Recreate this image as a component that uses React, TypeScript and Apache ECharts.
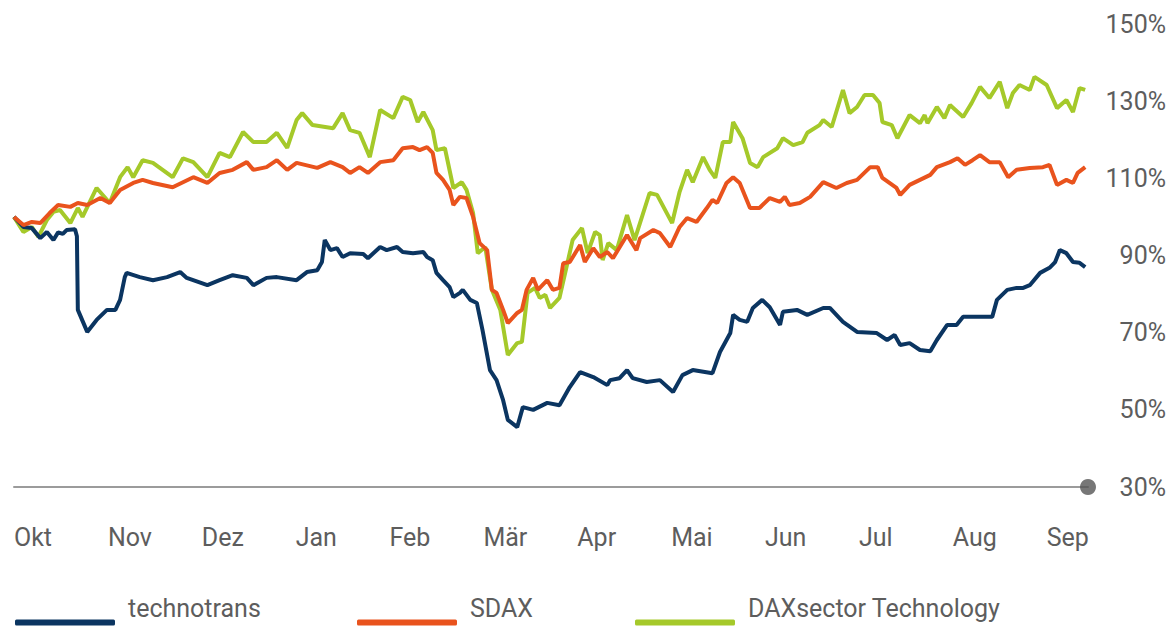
import React, { useEffect, useRef } from "react";
import * as echarts from "echarts";

// Month labels (x axis ticks at month starts, x in months since 1 Oct)
const monthLabels = ["Okt", "Nov", "Dez", "Jan", "Feb", "Mär", "Apr", "Mai", "Jun", "Jul", "Aug", "Sep"];
const yTicks = [30, 50, 70, 90, 110, 130, 150];
const xEnd = 11.44;

// [months since 1 Oct, indexed value in %]
const technotrans: [number, number][] = [
  [0, 100.0], [0.1, 97.4], [0.19, 97.1], [0.28, 94.5], [0.35, 96.1], [0.42, 94.0], [0.47, 96.0], [0.52, 95.6],
  [0.56, 96.6], [0.65, 96.8], [0.67, 95.0], [0.68, 75.9], [0.78, 70.2], [0.88, 73.3], [0.99, 75.9], [1.08, 75.9],
  [1.13, 78.5], [1.18, 84.4], [1.2, 85.5], [1.34, 84.4], [1.48, 83.6], [1.63, 84.4], [1.77, 85.7], [1.84, 84.2],
  [2.06, 82.3], [2.19, 83.6], [2.33, 84.9], [2.48, 84.2], [2.55, 82.3], [2.69, 84.2], [2.8, 84.4], [3.01, 83.6],
  [3.12, 85.7], [3.23, 86.2], [3.28, 88.3], [3.31, 94.0], [3.37, 91.4], [3.44, 91.9], [3.5, 89.6], [3.58, 90.6],
  [3.72, 90.4], [3.77, 89.3], [3.9, 92.2], [3.97, 91.4], [4.08, 92.2], [4.14, 90.9], [4.25, 90.6], [4.36, 90.9],
  [4.4, 89.6], [4.46, 88.8], [4.5, 85.5], [4.57, 83.6], [4.64, 81.8], [4.68, 79.2], [4.75, 80.3], [4.78, 81.1],
  [4.86, 78.5], [4.93, 77.7], [4.99, 70.7], [5.07, 60.3], [5.14, 57.7], [5.21, 52.5], [5.26, 47.4], [5.36, 45.5],
  [5.42, 50.7], [5.53, 50.0], [5.68, 51.8], [5.81, 51.2], [5.92, 55.9], [6.03, 59.8], [6.17, 58.5], [6.32, 56.4],
  [6.35, 57.7], [6.45, 58.2], [6.53, 60.3], [6.59, 58.2], [6.74, 57.2], [6.88, 57.7], [7.02, 54.6], [7.12, 59.0],
  [7.23, 60.3], [7.44, 59.5], [7.52, 65.0], [7.63, 69.9], [7.66, 74.6], [7.73, 73.3], [7.81, 72.8], [7.87, 76.4],
  [7.97, 78.5], [8.05, 76.6], [8.16, 72.0], [8.19, 75.4], [8.34, 75.9], [8.45, 74.6], [8.62, 76.4], [8.69, 76.4],
  [8.83, 72.8], [8.98, 70.2], [9.19, 69.9], [9.3, 68.1], [9.38, 69.4], [9.44, 66.8], [9.54, 67.3], [9.65, 65.5],
  [9.76, 65.2], [9.83, 68.1], [9.94, 72.0], [10.04, 72.0], [10.11, 74.1], [10.26, 74.1], [10.42, 74.1], [10.47, 78.5],
  [10.58, 81.1], [10.68, 81.6], [10.75, 81.6], [10.82, 82.3], [10.93, 85.5], [11.03, 86.8], [11.09, 88.3], [11.14, 91.4],
  [11.21, 90.6], [11.28, 88.3], [11.35, 88.1], [11.41, 87.0],
];

const sdax: [number, number][] = [
  [0, 100.0], [0.1, 97.9], [0.19, 98.7], [0.28, 98.4], [0.38, 101.0], [0.47, 103.1], [0.6, 102.6], [0.68, 103.6],
  [0.78, 103.1], [0.92, 104.9], [1.02, 103.6], [1.13, 107.0], [1.27, 108.8], [1.37, 109.6], [1.48, 108.8], [1.69, 107.7],
  [1.91, 110.3], [2.06, 108.8], [2.19, 111.4], [2.33, 112.2], [2.48, 114.2], [2.55, 112.2], [2.69, 112.9], [2.8, 114.7],
  [2.91, 112.2], [3.01, 114.0], [3.23, 112.7], [3.37, 114.2], [3.5, 112.9], [3.58, 111.4], [3.68, 112.9], [3.77, 111.4],
  [3.9, 114.2], [4.04, 114.7], [4.14, 117.8], [4.25, 118.1], [4.32, 117.3], [4.4, 118.1], [4.46, 116.6], [4.5, 111.4],
  [4.57, 109.6], [4.64, 107.0], [4.68, 103.1], [4.75, 105.2], [4.82, 104.9], [4.89, 100.0], [4.96, 93.2], [5.04, 91.4],
  [5.09, 81.1], [5.14, 80.3], [5.21, 75.9], [5.26, 72.5], [5.36, 75.1], [5.41, 75.9], [5.46, 81.1], [5.53, 84.2],
  [5.58, 81.1], [5.68, 83.6], [5.74, 81.1], [5.81, 81.6], [5.85, 88.0], [5.92, 88.3], [6.03, 92.7], [6.08, 88.3],
  [6.17, 91.9], [6.24, 89.6], [6.32, 90.9], [6.38, 89.3], [6.53, 95.3], [6.63, 91.4], [6.67, 94.5], [6.81, 96.6],
  [6.88, 95.8], [6.99, 92.2], [7.09, 97.4], [7.17, 99.7], [7.27, 98.7], [7.38, 102.3], [7.44, 104.4], [7.49, 103.6],
  [7.59, 108.8], [7.66, 110.3], [7.73, 108.8], [7.84, 102.3], [7.94, 102.3], [8.05, 104.9], [8.16, 103.9], [8.21, 105.2],
  [8.26, 103.1], [8.37, 103.6], [8.48, 105.2], [8.62, 109.0], [8.76, 107.5], [8.87, 108.8], [8.98, 109.6], [9.12, 112.9],
  [9.2, 112.9], [9.25, 110.1], [9.4, 107.5], [9.44, 105.7], [9.54, 108.3], [9.65, 109.6], [9.76, 110.9], [9.83, 112.9],
  [9.97, 114.2], [10.05, 115.2], [10.13, 113.5], [10.21, 114.7], [10.29, 116.0], [10.39, 114.2], [10.5, 114.2], [10.59, 110.3],
  [10.68, 112.2], [10.82, 112.7], [10.96, 112.9], [11.03, 113.5], [11.11, 108.3], [11.21, 109.6], [11.28, 108.8], [11.33, 111.4],
  [11.41, 112.9],
];

const daxTech: [number, number][] = [
  [0, 100.0], [0.1, 96.1], [0.19, 97.4], [0.26, 94.8], [0.35, 99.2], [0.42, 101.3], [0.49, 101.8], [0.6, 98.4],
  [0.68, 102.3], [0.73, 100.0], [0.88, 107.5], [1.02, 103.6], [1.13, 110.3], [1.21, 112.9], [1.27, 110.3], [1.37, 114.7],
  [1.48, 114.0], [1.69, 110.3], [1.8, 115.2], [1.91, 114.2], [2.06, 110.3], [2.19, 116.6], [2.3, 115.5], [2.44, 122.0],
  [2.55, 119.4], [2.69, 119.4], [2.8, 121.8], [2.91, 117.9], [3.01, 125.1], [3.07, 126.9], [3.18, 123.8], [3.4, 123.0],
  [3.5, 126.9], [3.58, 122.5], [3.68, 121.8], [3.79, 115.5], [3.9, 127.7], [4.04, 125.6], [4.14, 131.1], [4.22, 130.3],
  [4.3, 124.6], [4.36, 127.2], [4.46, 122.5], [4.5, 117.3], [4.59, 117.8], [4.68, 107.5], [4.77, 109.0], [4.82, 107.0],
  [4.89, 101.0], [4.94, 90.6], [5.02, 92.2], [5.09, 81.1], [5.18, 75.9], [5.26, 64.2], [5.36, 67.3], [5.41, 67.6],
  [5.47, 80.3], [5.55, 81.6], [5.6, 79.0], [5.66, 79.8], [5.71, 76.4], [5.81, 79.0], [5.89, 87.5], [5.95, 94.0],
  [6.05, 97.1], [6.11, 90.6], [6.19, 96.1], [6.24, 95.3], [6.27, 88.8], [6.33, 93.2], [6.42, 91.4], [6.53, 100.5],
  [6.61, 94.0], [6.77, 106.2], [6.85, 105.7], [7.01, 98.4], [7.09, 106.5], [7.17, 112.2], [7.23, 109.0], [7.34, 115.5],
  [7.41, 112.2], [7.47, 110.1], [7.55, 119.4], [7.63, 119.4], [7.66, 124.6], [7.76, 120.4], [7.84, 114.0], [7.92, 112.9],
  [7.98, 115.5], [8.13, 117.8], [8.19, 120.4], [8.3, 118.6], [8.4, 119.4], [8.45, 121.8], [8.58, 123.8], [8.62, 125.1],
  [8.71, 123.3], [8.83, 132.9], [8.9, 126.9], [8.98, 128.5], [9.06, 131.6], [9.15, 131.6], [9.22, 129.5], [9.25, 124.6],
  [9.35, 123.8], [9.41, 120.4], [9.54, 126.4], [9.65, 124.3], [9.7, 126.4], [9.73, 124.3], [9.83, 128.5], [9.91, 125.6],
  [9.97, 129.0], [10.11, 125.9], [10.2, 129.5], [10.29, 133.7], [10.39, 130.8], [10.5, 135.0], [10.58, 128.2], [10.64, 132.1],
  [10.71, 134.2], [10.82, 132.9], [10.87, 136.3], [11.0, 134.2], [11.11, 128.2], [11.21, 130.3], [11.28, 127.2], [11.35, 133.4],
  [11.41, 132.9],
];

const NAVY = "#0b3561";
const ORANGE = "#e9531d";
const GREEN = "#a5c92a";
const TEXT = "#5d5d5d";
const FONT = "Roboto, 'Noto Sans', sans-serif";

export default function App() {
  const ref = useRef<HTMLDivElement>(null);
  useEffect(() => {
    if (!ref.current) return;
    const chart = echarts.init(ref.current, undefined, { renderer: "svg" });
    const legendBase = {
      top: 591,
      itemWidth: 100,
      itemHeight: 6,
      icon: "roundRect",
      formatter: "{t|{name}}",
      textStyle: {
        color: TEXT,
        fontSize: 25,
        fontFamily: FONT,
        rich: {
          t: { color: TEXT, fontSize: 25, fontFamily: FONT, padding: [0, 0, 28, 8] },
        },
      },
    };
    chart.setOption({
      animation: false,
      backgroundColor: "#ffffff",
      grid: { left: 14, right: 86, top: 24, bottom: 140, containLabel: false },
      legend: [
        { ...legendBase, left: 10, data: ["technotrans"] },
        { ...legendBase, left: 352, data: ["SDAX"] },
        { ...legendBase, left: 630, data: ["DAXsector Technology"] },
      ],
      xAxis: {
        type: "value",
        min: 0,
        max: xEnd,
        interval: 1,
        axisLine: { show: true, lineStyle: { color: "#9b9b9b", width: 2 } },
        axisTick: { show: false },
        splitLine: { show: false },
        axisLabel: {
          color: TEXT,
          fontSize: 25,
          fontFamily: FONT,
          align: "left",
          margin: 38,
          showMaxLabel: false,
          formatter: (v: number) => (Number.isInteger(v) ? monthLabels[v] ?? "" : ""),
        },
      },
      yAxis: {
        type: "value",
        position: "right",
        min: yTicks[0],
        max: yTicks[yTicks.length - 1],
        interval: 20,
        axisLine: { show: false },
        axisTick: { show: false },
        splitLine: { show: false },
        axisLabel: {
          color: TEXT,
          fontSize: 25,
          fontFamily: FONT,
          align: "right",
          margin: 78,
          formatter: (v: number) => `${v}%`,
        },
      },
      series: [
        {
          name: "DAXsector Technology",
          type: "line",
          data: daxTech,
          showSymbol: false,
          color: GREEN,
          lineStyle: { width: 4, color: GREEN },
        },
        {
          name: "technotrans",
          type: "line",
          data: technotrans,
          showSymbol: false,
          color: NAVY,
          lineStyle: { width: 4, color: NAVY },
        },
        {
          name: "SDAX",
          type: "line",
          data: sdax,
          showSymbol: false,
          color: ORANGE,
          lineStyle: { width: 4, color: ORANGE },
        },
        {
          name: "axisEnd",
          type: "scatter",
          data: [[xEnd, yTicks[0]]],
          symbolSize: 16,
          itemStyle: { color: "#555555" },
          silent: true,
          z: 5,
        },
      ],
    });
    return () => chart.dispose();
  }, []);
  return (
    <div
      ref={ref}
      style={{ position: "absolute", left: 0, top: 0, width: 1174, height: 627 }}
    />
  );
}
